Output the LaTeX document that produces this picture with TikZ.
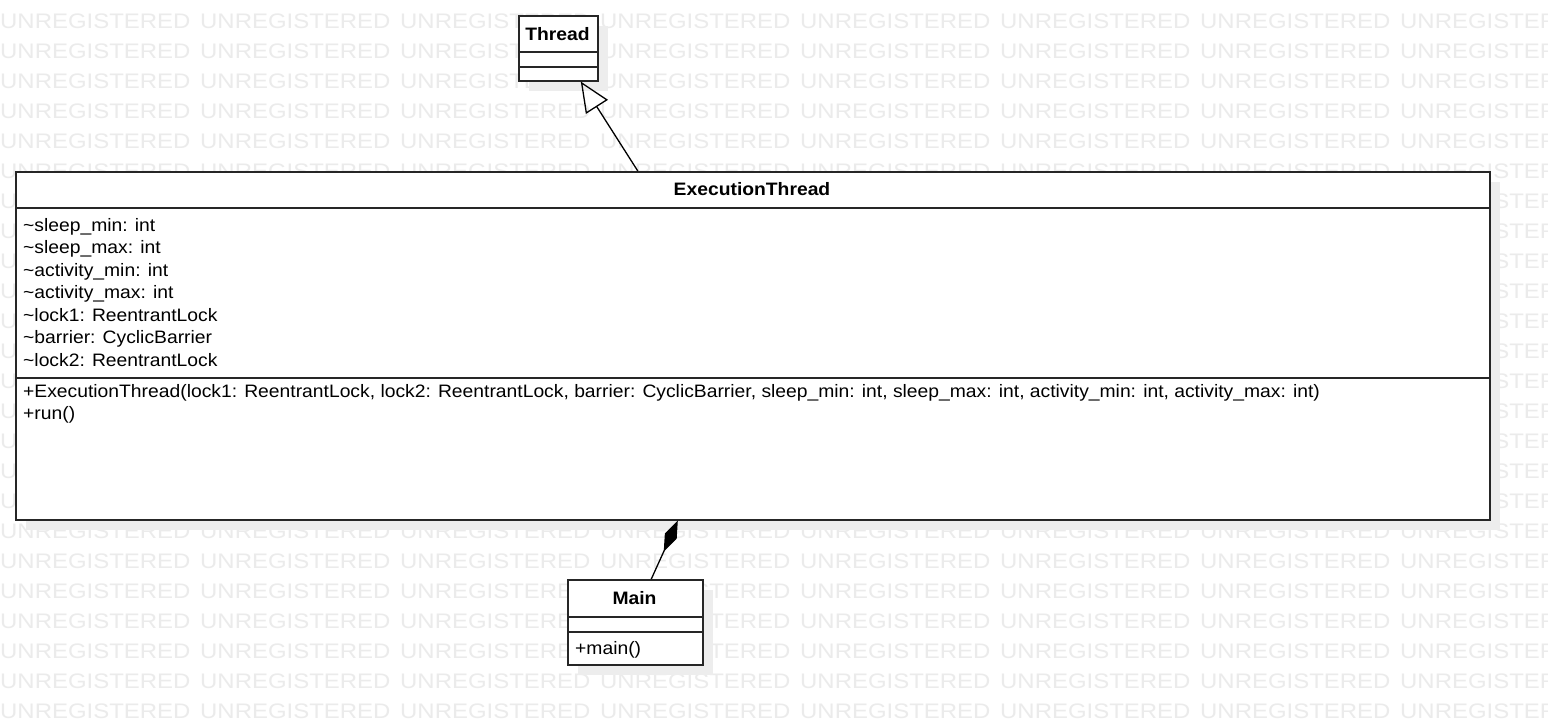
\documentclass[tikz,border=0pt]{standalone}
\usepackage{fontspec}
\newfontfamily\umlfont[FakeStretch=1.072]{Liberation Sans}
\newfontfamily\wmfont[FakeStretch=1.14]{Liberation Sans}
\usetikzlibrary{arrows.meta, shadows}

\tikzset{
    umlbox/.style={draw=black!85, line width=1.6pt, fill=white, inner sep=0pt,
        anchor=north west,
        drop shadow={shadow xshift=10pt, shadow yshift=-10pt, fill=black!7, opacity=1}},
    sepline/.style={draw=black!85, line width=1.4pt},
    title/.style={anchor=base, inner sep=0pt, font=\umlfont\fontsize{18}{22}\selectfont\bfseries},
    member/.style={anchor=base west, inner sep=0pt, font=\umlfont\fontsize{18}{22}\selectfont},
    watermark/.style={anchor=base west, inner sep=0pt, text=black!8, font=\wmfont\fontsize{21}{24}\selectfont}
}

\begin{document}
\begin{tikzpicture}[x=1pt, y=-1pt]
            \useasboundingbox (0,0) rectangle (1548,724);
            \fill[white] (0,0) rectangle (1548,724);

            % watermark
            \begin{scope}
                \clip (0,0) rectangle (1548,724);
                \foreach \r in {0,...,23}
                    \foreach \c in {0,...,7}
                        {
                            \node[watermark] at (200*\c, 28+30*\r) {UNREGISTERED};
                        }
            \end{scope}

            % classes
            \node[umlbox, minimum width=79pt, minimum height=65pt] (thread) at (518,15) {};
            \node[umlbox, minimum width=1474pt, minimum height=348pt] (exec) at (15,171) {};
            \node[umlbox, minimum width=135pt, minimum height=85pt] (main) at (567,579) {};

            % compartments
            \draw[sepline] (518,52)--(597,52);
            \draw[sepline] (518,67)--(597,67);
            \draw[sepline] (15,208)--(1489,208);
            \draw[sepline] (15,378)--(1489,378);
            \draw[sepline] (567,617)--(702,617);
            \draw[sepline] (567,632)--(702,632);

            % names
            \node[title] (threadname) at (557.5,40) {Thread};
            \node[title] (execname) at (752,195) {ExecutionThread};
            \node[title] (mainname) at (634.5,604) {Main};

            % attributes
            \foreach \t [count=\i] in {sleep\_min: int, sleep\_max: int, activity\_min: int,
                    activity\_max: int, lock1: ReentrantLock, barrier: CyclicBarrier, lock2: ReentrantLock}
                {
                    \node[member] (attr\i) at (23, 231+22.5*\i-22.5) {\textasciitilde\t};
                }

            % operations
            \node[member] (ctor) at (23,397) {+ExecutionThread(lock1: ReentrantLock, lock2: ReentrantLock, barrier: CyclicBarrier, sleep\_min: int, sleep\_max: int, activity\_min: int, activity\_max: int)};
            \node[member] (run) at (23,419.5) {+run()};
            \node[member] (mainop) at (575,654) {+main()};

            % relations
            \draw[line width=1.3pt, -{Triangle[open, length=30pt, width=26pt, line width=1.3pt]}]
                ([xshift=-115pt]exec.north) -- ([xshift=22.5pt]thread.south);
            \draw[line width=1.3pt, -{Diamond[length=34pt, width=13pt]}]
                ([xshift=16pt]main.north) -- ([xshift=-75pt]exec.south);

        \end{tikzpicture}
\end{document}
